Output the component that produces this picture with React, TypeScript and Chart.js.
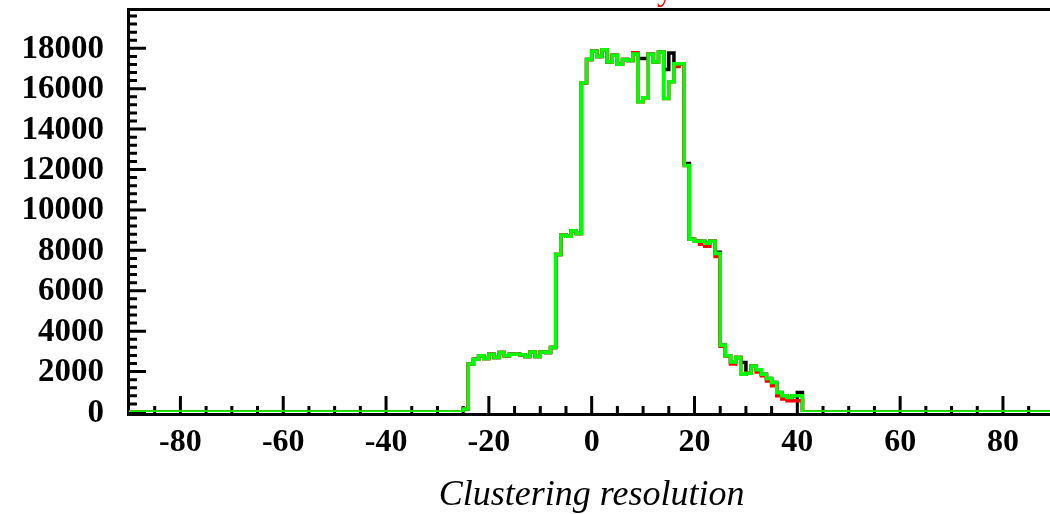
import React, { useEffect, useRef } from 'react';
import { Chart, registerables } from 'chart.js';

Chart.register(...registerables);

// Histogram: 1-unit bins from -90 to 90, values listed from bin [-25,-24] to bin [40,41]
const histMin = -90;
const histMax = 90;
const binStart = -25;

const greenValues = [
  // -25 .. -16
  150, 2370, 2610, 2780, 2650, 2860, 2700, 2940, 2780, 2860,
  // -15 .. -6
  2860, 2830, 2750, 2975, 2750, 2975, 2940, 3190, 7790, 8750,
  // -5 .. 4
  8700, 8970, 8830, 16300, 17450, 17850, 17600, 17930, 17320, 17650,
  // 5 .. 14
  17210, 17450, 17400, 17720, 15350, 15550, 17700, 17320, 17820, 15520,
  // 15 .. 24
  16340, 17240, 17240, 12200, 8550, 8450, 8450, 8350, 8450, 7850,
  // 25 .. 34
  3300, 2780, 2480, 2700, 1870, 1920, 2280, 2090, 1870, 1660,
  // 35 .. 40
  1460, 970, 800, 720, 800, 800,
];

const redValues = [
  150, 2370, 2610, 2780, 2650, 2860, 2700, 2940, 2780, 2860,
  2860, 2830, 2750, 2975, 2750, 2975, 2940, 3190, 7790, 8750,
  8700, 8970, 8830, 16300, 17450, 17850, 17600, 17930, 17320, 17650,
  17210, 17450, 17400, 17780, 15350, 15550, 17700, 17320, 17820, 15520,
  16340, 17100, 17240, 12200, 8550, 8450, 8300, 8200, 8450, 7700,
  3250, 2780, 2370, 2700, 1870, 1920, 2280, 1980, 1790, 1540,
  1300, 800, 640, 560, 560, 560,
];

const blackValues = [
  150, 2370, 2610, 2780, 2650, 2860, 2700, 2940, 2780, 2860,
  2860, 2830, 2750, 2975, 2750, 2975, 2940, 3190, 7790, 8750,
  8700, 8970, 8830, 16300, 17450, 17850, 17600, 17930, 17320, 17650,
  17210, 17450, 17400, 17720, 17500, 17500, 17700, 17320, 17820, 16950,
  17770, 17240, 17240, 12300, 8550, 8450, 8450, 8350, 8450, 7900,
  3300, 2780, 2480, 2700, 2450, 1920, 2280, 2090, 1870, 1660,
  1460, 970, 800, 720, 800, 970,
];

const xTickValues = [-80, -60, -40, -20, 0, 20, 40, 60, 80];
const xTickLabels = ['-80', '-60', '-40', '-20', '0', '20', '40', '60', '80'];
const yTickValues = [0, 2000, 4000, 6000, 8000, 10000, 12000, 14000, 16000, 18000];
const yTickLabels = ['0', '2000', '4000', '6000', '8000', '10000', '12000', '14000', '16000', '18000'];
const xMinorStep = 5;
const yMinorStep = 400;
const xTitle = 'Clustering resolution';
const plotTitle = 'Resolution efficiency';

function toSteps(values: number[]) {
  const pts: { x: number; y: number }[] = [];
  for (let e = histMin; e < histMax; e++) {
    const i = e - binStart;
    const v = i >= 0 && i < values.length ? values[i] : 0;
    pts.push({ x: e, y: v });
  }
  pts.push({ x: histMax, y: pts[pts.length - 1].y });
  return pts;
}

const framePlugin = {
  id: 'rootFrame',
  beforeDatasetsDraw(chart: any) {
    const { ctx, chartArea, scales } = chart;
    const xs = scales.x;
    const ys = scales.y;
    const left = chartArea.left;
    const right = chart.width;
    const bottomLine = 414.5;
    const tickBase = 413;
    ctx.save();
    ctx.strokeStyle = '#000';
    ctx.lineCap = 'butt';
    ctx.lineWidth = 3;
    ctx.beginPath();
    ctx.moveTo(left - 1.5, chartArea.top);
    ctx.lineTo(right, chartArea.top);
    ctx.moveTo(left - 1.5, bottomLine);
    ctx.lineTo(right, bottomLine);
    ctx.moveTo(left - 0.5, chartArea.top - 1.5);
    ctx.lineTo(left - 0.5, bottomLine + 1.5);
    ctx.stroke();
    ctx.beginPath();
    for (let v = -85; v <= 85; v += xMinorStep) {
      const px = xs.getPixelForValue(v);
      if (px > right) continue;
      const major = xTickValues.includes(v);
      ctx.moveTo(px, tickBase);
      ctx.lineTo(px, tickBase - (major ? 17 : 7));
    }
    for (let v = 0; v <= ys.max; v += yMinorStep) {
      const py = ys.getPixelForValue(v);
      const major = yTickValues.includes(v);
      ctx.moveTo(left, py);
      ctx.lineTo(left + (major ? 17 : 8), py);
    }
    ctx.stroke();
    ctx.restore();
  },
  afterDraw(chart: any) {
    const { ctx, scales } = chart;
    const xs = scales.x;
    const ys = scales.y;
    ctx.save();
    ctx.fillStyle = '#000';
    ctx.font = 'bold 33px "Liberation Serif"';
    ctx.textAlign = 'right';
    ctx.textBaseline = 'middle';
    yTickValues.forEach((v, i) => {
      ctx.fillText(yTickLabels[i], 104, ys.getPixelForValue(v) + 1);
    });
    ctx.font = 'bold 32px "Liberation Serif"';
    ctx.textAlign = 'center';
    ctx.textBaseline = 'alphabetic';
    xTickValues.forEach((v, i) => {
      ctx.fillText(xTickLabels[i], xs.getPixelForValue(v), 451);
    });
    ctx.font = 'italic 36px "Liberation Serif"';
    ctx.fillText(xTitle, xs.getPixelForValue(0), 505);
    ctx.fillStyle = '#ff0000';
    ctx.font = '32px "Liberation Serif"';
    ctx.textAlign = 'right';
    ctx.fillText(plotTitle, 673, 0);
    ctx.restore();
  },
};

export default function App() {
  const canvasRef = useRef<HTMLCanvasElement | null>(null);

  useEffect(() => {
    const canvas = canvasRef.current;
    if (!canvas) return;
    const common = {
      borderWidth: 3.5,
      stepped: 'before' as const,
      pointRadius: 0,
      fill: false,
      borderCapStyle: 'butt' as const,
      borderJoinStyle: 'miter' as const,
    };
    const chart = new Chart(canvas, {
      type: 'line',
      data: {
        datasets: [
          { ...common, label: 'green', data: toSteps(greenValues), borderColor: '#00ff00', order: 0 },
          { ...common, label: 'red', data: toSteps(redValues), borderColor: '#ff0000', order: 1 },
          { ...common, label: 'black', data: toSteps(blackValues), borderColor: '#000000', order: 2 },
        ],
      },
      options: {
        animation: false,
        responsive: false,
        maintainAspectRatio: false,
        events: [],
        layout: { padding: { left: 129, top: 9.5, right: 0, bottom: 102 } },
        plugins: {
          legend: { display: false },
          tooltip: { enabled: false },
          title: { display: false },
        },
        scales: {
          x: { type: 'linear', min: -90, max: 89.15, display: false },
          y: { type: 'linear', min: 0, max: 19920, display: false },
        },
      },
      plugins: [framePlugin],
    });
    return () => chart.destroy();
  }, []);

  return (
    <div style={{ position: 'fixed', left: 0, top: 0, width: 1050, height: 514, background: '#fff' }}>
      <canvas ref={canvasRef} width={1050} height={514} style={{ display: 'block' }} />
    </div>
  );
}
